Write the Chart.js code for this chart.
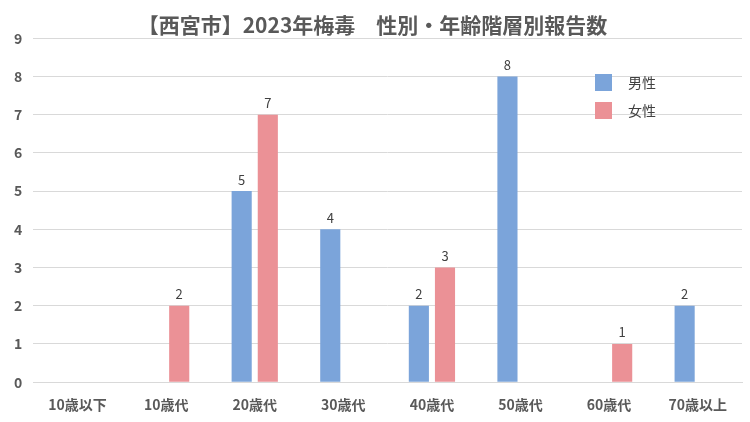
<!DOCTYPE html>
<html>
<head>
<meta charset="utf-8">
<script src="https://cdn.jsdelivr.net/npm/chart.js@4/dist/chart.umd.min.js"></script>
<style>
  html, body { margin: 0; padding: 0; background: #fff; }
  #wrap { width: 750px; height: 422px; }
</style>
</head>
<body>
<div id="wrap"><canvas id="myChart" width="750" height="422"></canvas></div>
<script>
'use strict'

var categories = ['10歳以下', '10歳代', '20歳代', '30歳代', '40歳代', '50歳代', '60歳代', '70歳以上'];
var male = [0, 0, 5, 4, 2, 8, 0, 2];
var female = [0, 2, 7, 0, 3, 0, 1, 0];
var yTicks = [0, 1, 2, 3, 4, 5, 6, 7, 8, 9];

var FONT = '"Noto Sans CJK JP", "Noto Sans", sans-serif';

// values above the bars, zeros are left out
var valueLabels = {
  id: 'valueLabels',
  afterDatasetsDraw: function(chart) {
    var ctx = chart.ctx;
    ctx.save();
    ctx.font = '13px ' + FONT;
    ctx.fillStyle = '#404040';
    ctx.textAlign = 'center';
    ctx.textBaseline = 'bottom';
    chart.data.datasets.forEach(function(ds, i) {
      chart.getDatasetMeta(i).data.forEach(function(bar, j) {
        if (ds.data[j] === 0) return;
        ctx.fillText(ds.data[j], bar.x, bar.y - 5);
      });
    });
    ctx.restore();
  }
};

// legend inside the plot, top right
var innerLegend = {
  id: 'innerLegend',
  afterDraw: function(chart) {
    var ctx = chart.ctx;
    ctx.save();
    ctx.font = '14px ' + FONT;
    ctx.textBaseline = 'middle';
    chart.data.datasets.forEach(function(ds, i) {
      var y = 74 + i * 28;
      ctx.fillStyle = ds.backgroundColor;
      ctx.fillRect(595, y, 17, 17);
      ctx.fillStyle = '#404040';
      ctx.fillText(ds.label, 628, y + 9);
    });
    ctx.restore();
  }
};

var ctx = document.getElementById('myChart');

var chart = new Chart(ctx, {
  type: 'bar',
  data: {
    labels: categories,
    datasets: [{
      label: '男性',
      backgroundColor: '#7ba4da',
      data: male
    },
    {
      label: '女性',
      backgroundColor: '#eb9196',
      data: female
    }]
  },
  options: {
    responsive: false,
    animation: false,
    layout: { padding: { left: 3, right: 8, top: 0, bottom: -5 } },
    datasets: { bar: { categoryPercentage: 0.59, barPercentage: 0.77 } },
    plugins: {
      legend: { display: false },
      tooltip: { enabled: false },
      title: {
        display: true,
        text: '【西宮市】2023年梅毒　性別・年齢階層別報告数',
        color: '#595959',
        font: { family: FONT, size: 21, weight: 'bold' },
        padding: { top: 12, bottom: 1 }
      }
    },
    scales: {
      x: {
        grid: { display: false, drawTicks: false },
        border: { color: '#d9d9d9' },
        ticks: {
          color: '#595959',
          font: { family: FONT, size: 14, weight: 'bold' },
          padding: 14
        }
      },
      y: {
        min: 0,
        max: 9,
        afterBuildTicks: function(axis) {
          axis.ticks = yTicks.map(function(v) { return { value: v }; });
        },
        grid: { color: '#d9d9d9', drawTicks: false },
        border: { display: false },
        ticks: {
          color: '#595959',
          font: { family: FONT, size: 14, weight: 'bold' },
          padding: 11
        }
      }
    }
  },
  plugins: [valueLabels, innerLegend]
});
</script>
</body>
</html>
